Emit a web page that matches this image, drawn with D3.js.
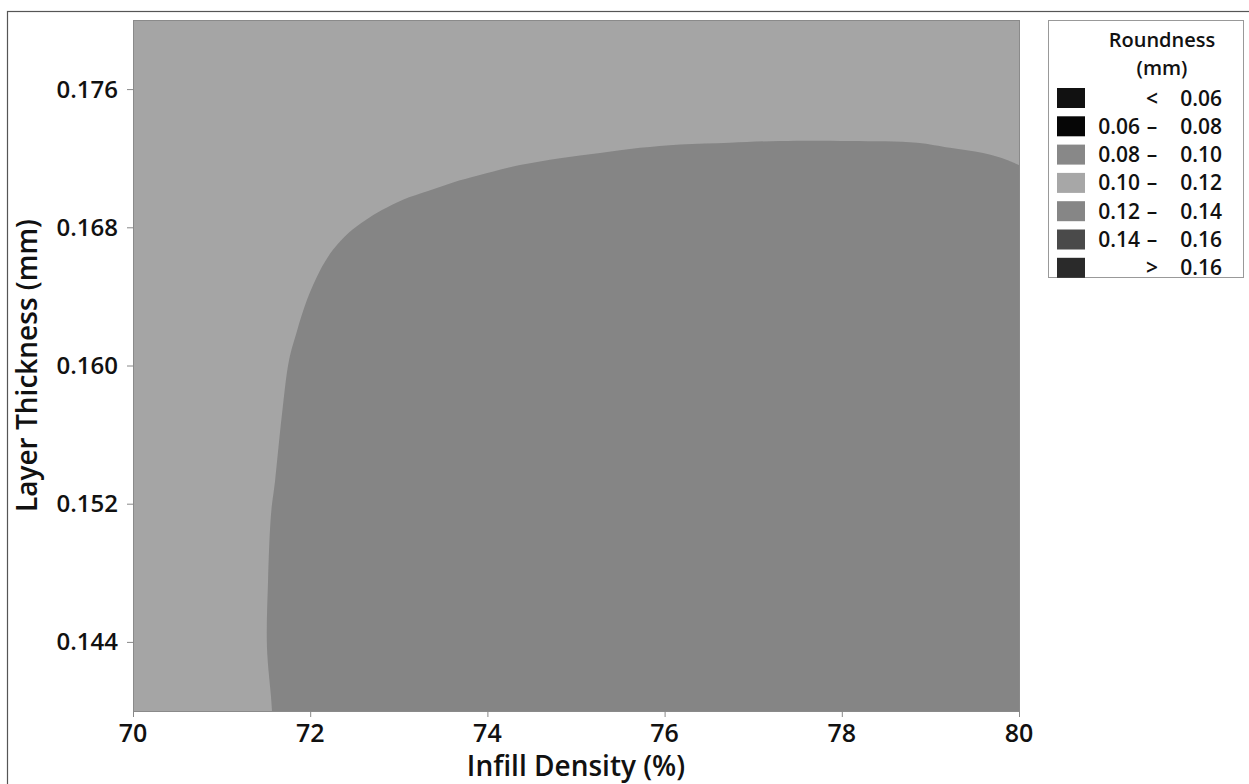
<!DOCTYPE html>
<html>
<head>
<meta charset="utf-8">
<script src="https://cdn.jsdelivr.net/npm/d3@7"></script>
<style>
  body { margin: 0; background: #fff; }
  svg text { font-family: "Open Sans", "Noto Sans", sans-serif; fill: #111; }
</style>
</head>
<body>
<div id="svg-wrap"></div>
<script>
// contour boundary between 0.10-0.12 and 0.12-0.14
var boundaryInfill = [80.0, 79.865, 79.594, 79.221, 78.849, 78.093, 77.302, 76.738, 76.174, 75.722,
  75.271, 74.819, 74.368, 73.894, 73.612, 73.33, 73.047, 72.81, 72.619, 72.438,
  72.257, 72.111, 71.964, 71.851, 71.761, 71.682, 71.603, 71.558, 71.524, 71.512, 71.558, 71.569];
var boundaryLayer = [0.1716, 0.1719, 0.1723, 0.1726, 0.1729, 0.173, 0.173, 0.1729, 0.1728, 0.1726,
  0.1723, 0.172, 0.1716, 0.171, 0.1706, 0.1701, 0.1696, 0.169, 0.1684, 0.1677,
  0.1667, 0.1655, 0.1638, 0.162, 0.1603, 0.1572, 0.1533, 0.1514, 0.1475, 0.1437, 0.1408, 0.14];

var xTicks = [70, 72, 74, 76, 78, 80];
var yTicks = [0.144, 0.152, 0.16, 0.168, 0.176];

var legendLow = ["", "0.06", "0.08", "0.10", "0.12", "0.14", ""];
var legendSep = ["<", "\u2013", "\u2013", "\u2013", "\u2013", "\u2013", ">"];
var legendHigh = ["0.06", "0.08", "0.10", "0.12", "0.14", "0.16", "0.16"];
var legendColors = ["#111111", "#060606", "#888888", "#a7a7a7", "#868686", "#4a4a4a", "#2a2a2a"];

var w = 1249;
var h = 784;
// plot box (don't use "top" - clashes with window.top)
var pL = 133, pR = 1019, pT = 20, pB = 711;

var svg = d3
  .select("#svg-wrap")
  .append("svg")
  .attr("width", w)
  .attr("height", h);

// outer frame
svg
  .append("rect")
  .attr("x", 7.5)
  .attr("y", 11.5)
  .attr("width", 1260)
  .attr("height", 800)
  .attr("fill", "none")
  .attr("stroke", "#555")
  .attr("stroke-width", 1.2);

var x = d3.scaleLinear().domain([70, 80]).range([pL, pR]);
var y = d3.scaleLinear().domain([0.14, 0.18]).range([pB, pT]);

svg
  .append("defs")
  .append("clipPath")
  .attr("id", "plotClip")
  .append("rect")
  .attr("x", pL)
  .attr("y", pT)
  .attr("width", pR - pL)
  .attr("height", pB - pT);

var plot = svg.append("g").attr("clip-path", "url(#plotClip)");

// lighter band 0.10 - 0.12 fills the whole area
plot
  .append("rect")
  .attr("x", x(70))
  .attr("y", y(0.18))
  .attr("width", x(80) - x(70))
  .attr("height", y(0.14) - y(0.18))
  .attr("fill", "#a5a5a5");

// 0.12 - 0.14 region, smooth edge then closed through bottom-right corner
var pts = boundaryInfill.map((d, i) => [d, boundaryLayer[i]]);
var edge = d3
  .line()
  .curve(d3.curveCatmullRom.alpha(0.5))
  .x((d) => x(d[0]))
  .y((d) => y(d[1]));
plot
  .append("path")
  .attr("d", edge(pts) + "L" + x(80) + "," + y(0.14) + "Z")
  .attr("fill", "#858585");

// plot border
svg
  .append("rect")
  .attr("x", pL + 0.5)
  .attr("y", pT + 0.5)
  .attr("width", pR - pL)
  .attr("height", pB - pT)
  .attr("fill", "none")
  .attr("stroke", "#8a8a8a");

// x axis
var xAxis = svg.append("g");
xAxis
  .selectAll(".xtick")
  .data(xTicks)
  .enter()
  .append("line")
  .attr("x1", (d) => x(d) + 0.5)
  .attr("x2", (d) => x(d) + 0.5)
  .attr("y1", pB)
  .attr("y2", pB + 6)
  .attr("stroke", "#888");
xAxis
  .selectAll(".xlab")
  .data(xTicks)
  .enter()
  .append("text")
  .attr("x", (d) => x(d))
  .attr("y", 742)
  .attr("text-anchor", "middle")
  .style("font-size", "25px")
  .style("font-weight", 600)
  .text((d) => d);

// y axis
var yAxis = svg.append("g");
yAxis
  .selectAll(".ytick")
  .data(yTicks)
  .enter()
  .append("line")
  .attr("x1", pL - 6)
  .attr("x2", pL)
  .attr("y1", (d) => y(d) + 0.5)
  .attr("y2", (d) => y(d) + 0.5)
  .attr("stroke", "#888");
yAxis
  .selectAll(".ylab")
  .data(yTicks)
  .enter()
  .append("text")
  .attr("x", 118)
  .attr("y", (d) => y(d) + 8.5)
  .attr("text-anchor", "end")
  .style("font-size", "24px")
  .style("font-weight", 600)
  .text((d) => d3.format(".3f")(d));

// axis titles
svg
  .append("text")
  .attr("x", (pL + pR) / 2)
  .attr("y", 776)
  .attr("text-anchor", "middle")
  .style("font-size", "28px")
  .style("font-weight", 600)
  .text("Infill Density (%)");

svg
  .append("text")
  .attr("transform", "translate(37," + (pT + pB) / 2 + ") rotate(-90)")
  .attr("text-anchor", "middle")
  .style("font-size", "28px")
  .style("font-weight", 600)
  .text("Layer Thickness (mm)");

// legend
var legend = svg.append("g");
legend
  .append("rect")
  .attr("x", 1048.5)
  .attr("y", 20.5)
  .attr("width", 195)
  .attr("height", 257)
  .attr("fill", "#fff")
  .attr("stroke", "#999");
legend
  .append("text")
  .attr("x", 1162)
  .attr("y", 47)
  .attr("text-anchor", "middle")
  .style("font-size", "20px")
  .style("font-weight", 600)
  .text("Roundness");
legend
  .append("text")
  .attr("x", 1162)
  .attr("y", 75)
  .attr("text-anchor", "middle")
  .style("font-size", "20px")
  .style("font-weight", 600)
  .text("(mm)");

var rows = legend
  .selectAll(".row")
  .data(legendColors)
  .enter()
  .append("g")
  .attr("transform", (d, i) => "translate(0," + (98 + i * 28.3) + ")");
rows
  .append("rect")
  .attr("x", 1057)
  .attr("y", -10)
  .attr("width", 28)
  .attr("height", 20)
  .attr("fill", (d) => d);
rows
  .append("text")
  .attr("x", 1140)
  .attr("y", 7.5)
  .attr("text-anchor", "end")
  .style("font-size", "21px")
  .style("font-weight", 600)
  .text((d, i) => legendLow[i]);
rows
  .append("text")
  .attr("x", 1152)
  .attr("y", 7.5)
  .attr("text-anchor", "middle")
  .style("font-size", "21px")
  .style("font-weight", 600)
  .text((d, i) => legendSep[i]);
rows
  .append("text")
  .attr("x", 1222)
  .attr("y", 7.5)
  .attr("text-anchor", "end")
  .style("font-size", "21px")
  .style("font-weight", 600)
  .text((d, i) => legendHigh[i]);
</script>
</body>
</html>
